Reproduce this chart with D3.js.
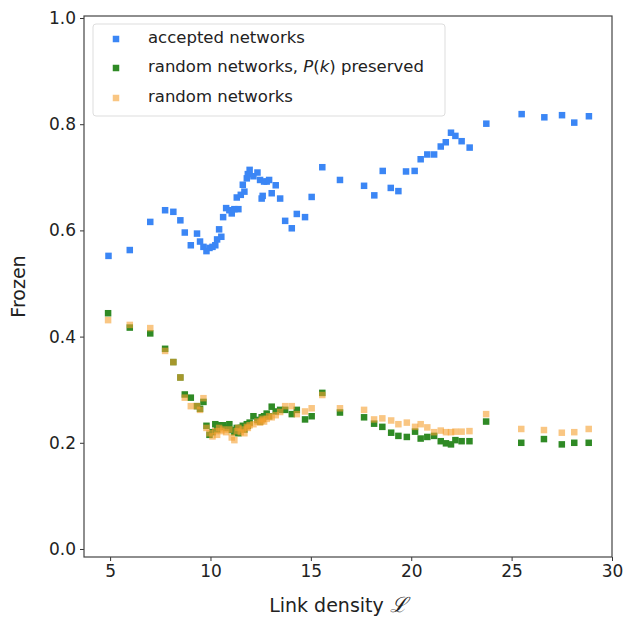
<!DOCTYPE html>
<html><head><meta charset="utf-8">
<script src="https://cdn.jsdelivr.net/npm/d3@7"></script>
<style>body{margin:0;background:#fff}svg{display:block}text{font-family:"DejaVu Sans",sans-serif}</style>
</head><body>
<svg id="c" width="625" height="622"></svg>
<script>
const acceptedX = [4.92,5.98,7.0,7.74,8.15,8.5,8.72,9.02,9.33,9.48,9.65,9.8,9.95,10.1,10.24,10.33,10.43,10.54,10.63,10.78,10.94,11.06,11.19,11.31,11.39,11.51,11.61,11.69,11.81,11.86,11.95,12.14,12.34,12.47,12.55,12.6,12.67,12.8,12.92,13.05,13.25,13.47,13.72,14.05,14.3,14.71,15.04,15.57,16.45,17.65,18.16,18.58,18.98,19.36,19.74,20.17,20.47,20.8,21.14,21.47,21.72,21.98,22.2,22.51,22.91,23.74,25.5,26.63,27.51,28.12,28.85];
const acceptedY = [0.552,0.563,0.616,0.638,0.635,0.619,0.596,0.572,0.594,0.579,0.569,0.561,0.567,0.569,0.572,0.583,0.602,0.588,0.625,0.642,0.638,0.632,0.640,0.662,0.640,0.667,0.686,0.673,0.698,0.706,0.714,0.702,0.709,0.695,0.660,0.665,0.692,0.692,0.695,0.670,0.685,0.660,0.618,0.604,0.631,0.625,0.663,0.719,0.695,0.684,0.666,0.712,0.680,0.674,0.711,0.712,0.734,0.743,0.743,0.758,0.766,0.784,0.778,0.768,0.756,0.801,0.819,0.813,0.817,0.803,0.815];
const randomX = [4.9,5.98,7.0,7.74,8.15,8.5,8.72,9.02,9.33,9.48,9.65,9.8,9.95,10.1,10.24,10.33,10.43,10.54,10.63,10.78,10.94,11.06,11.19,11.31,11.39,11.51,11.61,11.69,11.81,11.86,11.95,12.14,12.34,12.47,12.55,12.6,12.67,12.8,12.92,13.05,13.25,13.47,13.72,14.05,14.3,14.71,15.04,15.57,16.45,17.65,18.15,18.56,19.0,19.36,19.78,20.19,20.47,20.8,21.14,21.47,21.73,21.98,22.2,22.51,22.9,23.73,25.48,26.61,27.5,28.12,28.84];
const preservedY = [0.444,0.417,0.406,0.377,0.352,0.323,0.291,0.285,0.269,0.264,0.277,0.232,0.215,0.220,0.235,0.225,0.233,0.230,0.233,0.228,0.235,0.224,0.220,0.228,0.218,0.228,0.232,0.225,0.235,0.232,0.238,0.250,0.243,0.240,0.248,0.245,0.250,0.255,0.250,0.268,0.259,0.262,0.262,0.254,0.262,0.244,0.250,0.294,0.257,0.248,0.236,0.230,0.219,0.213,0.211,0.221,0.208,0.211,0.213,0.203,0.199,0.197,0.205,0.203,0.203,0.240,0.200,0.207,0.197,0.200,0.200];
const randomY = [0.431,0.422,0.416,0.373,0.352,0.323,0.285,0.269,0.269,0.262,0.284,0.228,0.218,0.212,0.222,0.215,0.228,0.222,0.225,0.220,0.225,0.210,0.205,0.222,0.228,0.220,0.225,0.218,0.230,0.228,0.233,0.235,0.240,0.238,0.242,0.245,0.240,0.245,0.250,0.248,0.252,0.258,0.269,0.269,0.254,0.259,0.265,0.290,0.265,0.262,0.244,0.246,0.242,0.235,0.238,0.230,0.235,0.229,0.220,0.223,0.220,0.220,0.221,0.221,0.222,0.254,0.226,0.224,0.219,0.220,0.226];
const xTicks = [5,10,15,20,25,30];
const yTicks = [0.0,0.2,0.4,0.6,0.8,1.0];
const seriesNames = ["accepted networks","random networks, P(k) preserved","random networks"];
const colors = ["#3b86f5","#2f8a25","#f5a030"];
const opac = [1,1,0.6];

const svg = d3.select("#c");
const L=84,R=612,T=16,B=557;
const x = d3.scaleLinear().domain([3.7,30]).range([L,R]);
const y = d3.scaleLinear().domain([-0.0151,1.0038]).range([B,T]);

const ax = svg.append("g").attr("transform",`translate(0,${B})`).call(d3.axisBottom(x).tickValues(xTicks).tickFormat(d3.format("d")).tickSize(4).tickPadding(4));
const ay = svg.append("g").attr("transform",`translate(${L},0)`).call(d3.axisLeft(y).tickValues(yTicks).tickFormat(d3.format(".1f")).tickSize(4).tickPadding(4));
[ax,ay].forEach(a=>{a.select(".domain").remove();a.selectAll("line").attr("stroke","#333");a.selectAll("text").attr("font-size",17).attr("fill","#222");});
svg.append("rect").attr("x",L).attr("y",T).attr("width",R-L).attr("height",B-T).attr("fill","none").attr("stroke","#444").attr("stroke-width",1.2);

const sz=6.5;
const sets=[[acceptedX,acceptedY],[randomX,preservedY],[randomX,randomY]];
sets.forEach((s,i)=>{
  svg.append("g").selectAll("rect").data(s[0].map((v,j)=>[v,s[1][j]])).join("rect")
    .attr("x",d=>x(d[0])-sz/2).attr("y",d=>y(d[1])-sz/2).attr("width",sz).attr("height",sz)
    .attr("fill",colors[i]).attr("fill-opacity",opac[i]);
});

// legend
const lg = svg.append("g");
lg.append("rect").attr("x",93).attr("y",24).attr("width",352).attr("height",92).attr("rx",3).attr("fill","#fff").attr("fill-opacity",0.8).attr("stroke","#ddd");
const rows=[37,66,96];
seriesNames.forEach((n,i)=>{
  lg.append("rect").attr("x",116-sz/2).attr("y",rows[i]-sz/2+2).attr("width",sz).attr("height",sz).attr("fill",colors[i]).attr("fill-opacity",opac[i]);
  const t=lg.append("text").attr("x",148).attr("y",rows[i]+6).attr("font-size",16.5).attr("fill","#222");
  if(i===1){
    t.append("tspan").text("random networks, ");
    t.append("tspan").attr("font-style","italic").text("P");
    t.append("tspan").text("(");
    t.append("tspan").attr("font-style","italic").text("k");
    t.append("tspan").text(") preserved");
  } else t.text(n);
});

svg.append("text").attr("x",(L+R)/2-10).attr("y",612).attr("text-anchor","middle").attr("font-size",19).attr("fill","#222")
  .call(t=>{t.append("tspan").text("Link density  ");t.append("tspan").attr("font-family","DejaVu Serif").attr("font-style","italic").attr("font-size",21).text("ℒ");});
svg.append("text").attr("transform",`translate(25,${(T+B)/2}) rotate(-90)`).attr("text-anchor","middle").attr("font-size",19).attr("fill","#222").text("Frozen");
</script>
</body></html>
